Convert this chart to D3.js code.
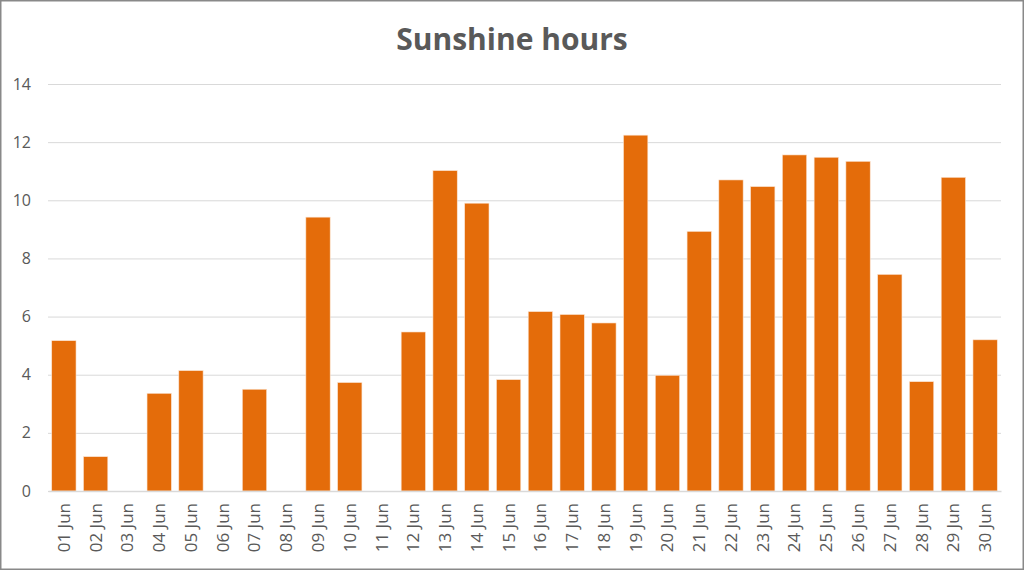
<!DOCTYPE html>
<html>
<head>
<meta charset="utf-8">
<script src="https://cdn.jsdelivr.net/npm/d3@7"></script>
<style>
  body { margin: 0; background: #fff; }
  svg { display: block; }
</style>
</head>
<body>
<svg id="svg" width="1024" height="570"></svg>
<script>
// data
const days = ["01 Jun","02 Jun","03 Jun","04 Jun","05 Jun","06 Jun","07 Jun","08 Jun","09 Jun","10 Jun",
  "11 Jun","12 Jun","13 Jun","14 Jun","15 Jun","16 Jun","17 Jun","18 Jun","19 Jun","20 Jun",
  "21 Jun","22 Jun","23 Jun","24 Jun","25 Jun","26 Jun","27 Jun","28 Jun","29 Jun","30 Jun"];
const hours = [5.17, 1.18, 0, 3.36, 4.14, 0, 3.50, 0, 9.42, 3.73,
  0, 5.47, 11.02, 9.90, 3.83, 6.17, 6.07, 5.78, 12.24, 3.98,
  8.93, 10.70, 10.47, 11.56, 11.48, 11.34, 7.45, 3.76, 10.79, 5.20];
const yTicks = [0, 2, 4, 6, 8, 10, 12, 14];

const W = 1024, H = 570;
const M = {left: 48, right: 23, top: 84, bottom: 79};
const TEXT = "#595959";
const FONT = "'Open Sans', 'Noto Sans', sans-serif";

const svg = d3.select("#svg");

// chart frame
svg.append("rect")
  .attr("x", 0.75).attr("y", 0.75)
  .attr("width", W - 1.5).attr("height", H - 1.5)
  .attr("fill", "#fff").attr("stroke", "#898989").attr("stroke-width", 1.5);

const x = d3.scaleBand()
  .domain(days)
  .range([M.left, W - M.right])
  .paddingInner(0.235)
  .paddingOuter(0.1175);

const y = d3.scaleLinear()
  .domain([0, 14])
  .range([H - M.bottom, M.top]);

// gridlines + y labels
const yAxis = svg.append("g")
  .attr("transform", "translate(" + M.left + ",0)")
  .call(d3.axisLeft(y).tickValues(yTicks).tickSize(-(W - M.left - M.right)).tickPadding(17));
yAxis.select(".domain").remove();
yAxis.selectAll(".tick line").attr("stroke", "#d9d9d9").attr("stroke-width", 1);
yAxis.selectAll(".tick text")
  .attr("fill", TEXT).style("font-family", FONT).style("font-size", "16px");

// bars
svg.append("g")
  .selectAll("rect")
  .data(hours)
  .enter().append("rect")
  .attr("x", (d, i) => x(days[i]))
  .attr("y", d => y(d))
  .attr("width", x.bandwidth())
  .attr("height", d => y(0) - y(d))
  .attr("fill", "#E46C0A")
  .attr("stroke", "#fbe3d0")
  .attr("stroke-width", 0.6);

// x axis
const xAxis = svg.append("g")
  .attr("transform", "translate(0," + y(0) + ")")
  .call(d3.axisBottom(x).tickSize(0).tickPadding(0));
xAxis.select(".domain").attr("stroke", "#d9d9d9").attr("stroke-width", 1.3);
xAxis.selectAll(".tick text")
  .attr("fill", TEXT).style("font-family", FONT).style("font-size", "17px")
  .attr("text-anchor", "end")
  .attr("dy", "0.35em")
  .attr("transform", "translate(0,12) rotate(-90)");

// title
svg.append("text")
  .attr("x", W / 2)
  .attr("y", 50)
  .attr("text-anchor", "middle")
  .attr("fill", TEXT)
  .style("font-family", FONT)
  .style("font-size", "30px")
  .style("font-weight", "bold")
  .text("Sunshine hours");
</script>
</body>
</html>
